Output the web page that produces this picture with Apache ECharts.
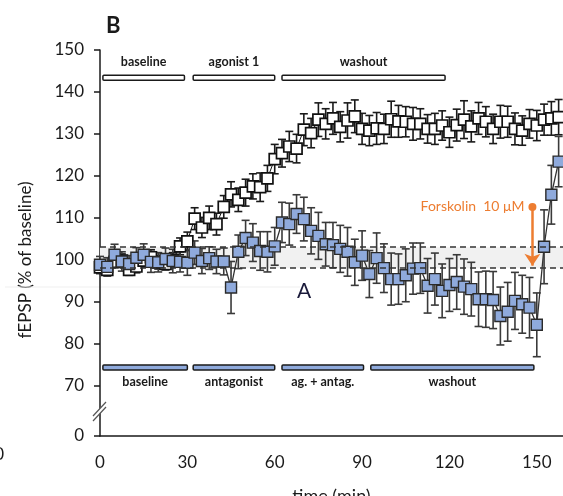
<!DOCTYPE html>
<html><head><meta charset="utf-8">
<script src="https://cdn.jsdelivr.net/npm/echarts@6/dist/echarts.min.js"></script>
<style>html,body{margin:0;padding:0;background:#fff}#c{width:563px;height:496px}</style>
</head><body><div id="c"></div>
<script>
// ---- data ----
const times = [0,2.5,5,7.5,10,12.5,15,17.5,20,22.5,25,27.5,30,32.5,35,37.5,40,42.5,45,47.5,50,52.5,55,57.5,60,62.5,65,67.5,70,72.5,75,77.5,80,82.5,85,87.5,90,92.5,95,97.5,100,102.5,105,107.5,110,112.5,115,117.5,120,122.5,125,127.5,130,132.5,135,137.5,140,142.5,145,147.5,150,152.5,155,157.5];
const agonistMean = [98.2,97.6,99.5,99.8,97.6,98.4,99.8,100.6,99.4,99.0,100.0,103.2,104.4,109.8,107.7,110.0,108.5,112.6,115.6,114.3,116.0,117.5,117.3,119.4,124.0,125.4,127.0,126.5,131.0,130.2,133.4,132.4,133.7,131.7,133.2,134.2,131.2,130.8,131.3,131.2,133.5,133.0,132.9,132.4,132.4,131.2,131.2,132.0,130.4,132.1,133.4,131.8,133.7,132.9,131.2,132.9,132.9,131.2,130.8,132.4,132.0,133.4,133.7,134.0];
const agonistSem = [1.5,1.2,1.4,1.6,1.3,1.5,1.5,1.8,1.6,1.4,1.7,2.0,2.2,2.6,2.4,2.8,2.6,2.7,3.0,2.8,3.2,3.0,3.4,3.1,3.5,3.3,3.6,3.4,3.8,3.5,4.0,3.6,3.8,3.6,4.2,3.9,3.7,3.6,3.8,3.5,4.3,3.8,3.6,3.9,3.6,3.4,3.7,3.5,3.6,3.8,4.5,3.7,3.8,3.6,3.5,3.9,3.7,3.8,3.5,3.4,3.6,3.7,4.0,4.2];
const antagonistMean = [98.8,98.3,101.2,99.6,99.0,100.5,101.2,99.5,99.4,100.2,99.7,99.5,99.3,101.7,99.7,100.4,99.6,99.6,93.4,101.9,105.2,104.1,102.1,101.9,103.2,108.9,108.5,110.9,109.7,106.9,105.7,103.7,103.5,102.6,101.9,99.4,101.0,96.6,100.4,98.0,95.4,95.4,96.3,97.9,98.0,93.8,95.4,92.6,94.0,94.7,93.6,93.0,90.6,90.6,90.4,86.6,87.6,90.2,89.4,88.6,84.5,103.1,115.5,123.4];
const antagonistSem = [2.0,2.2,2.5,2.3,2.0,2.4,2.6,2.5,2.3,2.6,2.8,2.4,3.0,2.8,3.0,2.7,2.9,3.2,6.2,4.0,4.2,4.5,4.6,4.8,4.5,4.8,5.0,4.6,5.2,5.5,5.6,5.2,5.4,5.6,5.8,5.5,5.9,5.6,6.0,5.8,6.2,6.0,6.3,6.1,6.0,6.5,6.2,6.4,6.3,6.5,6.6,6.4,6.5,6.7,6.8,6.9,7.0,6.8,6.9,7.2,7.6,8.8,7.0,6.0];
const yTicks = [0,70,80,90,100,110,120,130,140,150];
const xTicks = [0,30,60,90,120,150];
const topPhaseLabels = ['baseline','agonist 1','washout'];
const topPhaseStart = [1,32,62.5];
const topPhaseEnd = [29,60,118.5];
const bottomPhaseLabels = ['baseline','antagonist','ag. + antag.','washout'];
const bottomPhaseStart = [1,32,62.5,93];
const bottomPhaseEnd = [30,60,90.5,149];
const baselineBand = [98,103];
const forskolinTime = 148.5, forskolinFrom = 112.6, forskolinTo = 98.6;
const forskolinLabel = 'Forskolin  10 μM';

// ---- helpers ----
const BREAK_ZERO = 58; // axis position used for the "0" below the break
const yMap = v => (v < 70 ? BREAK_ZERO + v : v);
const yTickPos = yTicks.map(yMap);
const TXT = '#1a1a1a';
const FONT = 'Lato';

function errItem(color) {
  return function (params, api) {
    const x = api.value(0), m = api.value(1), e = api.value(2);
    const hi = api.coord([x, m + e]), lo = api.coord([x, m - e]);
    const st = {stroke: color, lineWidth: 1.6};
    const c = 4;
    return {type: 'group', children: [
      {type: 'line', shape: {x1: hi[0], y1: hi[1], x2: lo[0], y2: lo[1]}, style: st},
      {type: 'line', shape: {x1: hi[0] - c, y1: hi[1], x2: hi[0] + c, y2: hi[1]}, style: st},
      {type: 'line', shape: {x1: lo[0] - c, y1: lo[1], x2: lo[0] + c, y2: lo[1]}, style: st}
    ]};
  };
}
function phaseItem(labels, level, labelLevel, fill) {
  return function (params, api) {
    const s = api.coord([api.value(0), level]);
    const e = api.coord([api.value(1), level]);
    const lab = api.coord([(api.value(0) + api.value(1)) / 2, labelLevel]);
    return {type: 'group', children: [
      {type: 'rect', shape: {x: s[0], y: s[1] - 2.5, width: e[0] - s[0], height: 5, r: 1},
       style: {fill: fill, stroke: '#1a1a1a', lineWidth: 1.5}},
      {type: 'text', x: lab[0], y: lab[1],
       style: {text: labels[params.dataIndex], align: 'center', verticalAlign: 'middle',
               font: 'bold 12.5px ' + FONT, fill: TXT}}
    ]};
  };
}

const chart = echarts.init(document.getElementById('c'), null, {renderer: 'canvas'});
const option = {
  animation: false,
  grid: {left: 100, right: 0, top: 50, bottom: 60, containLabel: false, outerBoundsMode: 'none'},
  xAxis: {
    type: 'value', min: 0, max: 159, interval: 30,
    name: 'time (min)', nameLocation: 'middle', nameGap: 51,
    nameTextStyle: {fontFamily: FONT, fontSize: 18, color: TXT},
    axisLine: {show: true, lineStyle: {color: '#1a1a1a', width: 1.5}},
    axisTick: {show: false},
    axisLabel: {fontFamily: FONT, fontSize: 17, color: TXT, margin: 18,
      customValues: xTicks},
    splitLine: {show: false}
  },
  yAxis: {
    type: 'value', min: BREAK_ZERO, max: 150,
    axisLine: {show: true, lineStyle: {color: '#1a1a1a', width: 1.5}},
    axisTick: {show: true, inside: false, length: 6, customValues: yTickPos,
      lineStyle: {color: '#1a1a1a', width: 1.5}},
    axisLabel: {fontFamily: FONT, fontSize: 17, color: TXT, margin: 16,
      customValues: yTickPos,
      formatter: v => (v === BREAK_ZERO ? '0' : String(v))},
    splitLine: {show: false}
  },
  series: [
    { // baseline band
      type: 'line', data: [], silent: true,
      markArea: {silent: true, itemStyle: {color: '#f1f1f1'},
        data: [[{yAxis: baselineBand[0]}, {yAxis: baselineBand[1]}]]},
      markLine: {silent: true, symbol: 'none', label: {show: false},
        lineStyle: {color: '#333', type: [6, 4], width: 1.5},
        data: [{yAxis: baselineBand[0]}, {yAxis: baselineBand[1]}]}
    },
    {
      type: 'custom', renderItem: errItem('#1a1a1a'), clip: false, silent: true,
      data: times.map((t, i) => [t, agonistMean[i], agonistSem[i]])
    },
    {
      type: 'line', data: times.map((t, i) => [t, agonistMean[i]]),
      symbol: 'rect', symbolSize: 11, showAllSymbol: true,
      itemStyle: {color: '#ffffff', borderColor: '#111', borderWidth: 1.7},
      lineStyle: {color: '#111', width: 1}
    },
    {
      type: 'custom', renderItem: errItem('#3a3a3a'), clip: false, silent: true,
      data: times.map((t, i) => [t, antagonistMean[i], antagonistSem[i]])
    },
    {
      type: 'line', data: times.map((t, i) => [t, antagonistMean[i]]),
      symbol: 'rect', symbolSize: 11, showAllSymbol: true,
      itemStyle: {color: '#8FAADC', borderColor: '#2a2a2a', borderWidth: 1.4},
      lineStyle: {color: '#333', width: 1.3},
      markLine: {silent: true, symbol: ['none', 'arrow'], symbolSize: 12,
        label: {show: false},
        lineStyle: {color: '#ED7D31', width: 2.5, type: 'solid'},
        data: [[{coord: [forskolinTime, forskolinFrom]}, {coord: [forskolinTime, forskolinTo]}]]},
      markPoint: {silent: true, symbol: 'circle', symbolSize: 8,
        itemStyle: {color: '#ED7D31'},
        label: {show: true, position: 'left', distance: 4, formatter: forskolinLabel,
          color: '#ED7D31', fontFamily: FONT, fontSize: 14},
        data: [{coord: [forskolinTime, forskolinFrom]}]}
    },
    {
      type: 'custom', clip: false, silent: true,
      renderItem: phaseItem(topPhaseLabels, 143.4, 147.1, '#ffffff'),
      data: topPhaseStart.map((s, i) => [s, topPhaseEnd[i]])
    },
    {
      type: 'custom', clip: false, silent: true,
      renderItem: phaseItem(bottomPhaseLabels, 74.3, 70.8, '#8FAADC'),
      data: bottomPhaseStart.map((s, i) => [s, bottomPhaseEnd[i]])
    }
  ],
  graphic: [
    {type: 'text', left: 106, top: 15, style: {text: 'B', font: 'bold 22px ' + FONT, fill: TXT}},
    {type: 'text', x: 26, y: 260, rotation: Math.PI / 2,
     style: {text: 'fEPSP (% of baseline)', font: '17px ' + FONT, fill: TXT, align: 'center', verticalAlign: 'middle'}},
    {type: 'line', shape: {x1: 5, y1: 287, x2: 300, y2: 287}, style: {stroke: '#efefef', lineWidth: 1}, z: 0},
    {type: 'text', x: 304, y: 291, style: {text: 'A', font: '21px ' + FONT, fill: '#1a1a3a', align: 'center', verticalAlign: 'middle'}},
    {type: 'text', x: 4, y: 455, style: {text: '0', font: '17px ' + FONT, fill: TXT, align: 'right', verticalAlign: 'middle'}},
    {type: 'polygon', shape: {points: [[93, 416], [106, 402], [106, 407], [93, 421]]}, style: {fill: '#fff'}, z: 100},
    {type: 'line', shape: {x1: 93, y1: 416, x2: 106, y2: 402}, style: {stroke: '#555', lineWidth: 1.2}, z: 101},
    {type: 'line', shape: {x1: 93, y1: 421, x2: 106, y2: 407}, style: {stroke: '#555', lineWidth: 1.2}, z: 101}
  ]
};
chart.setOption(option);
</script>
</body></html>
